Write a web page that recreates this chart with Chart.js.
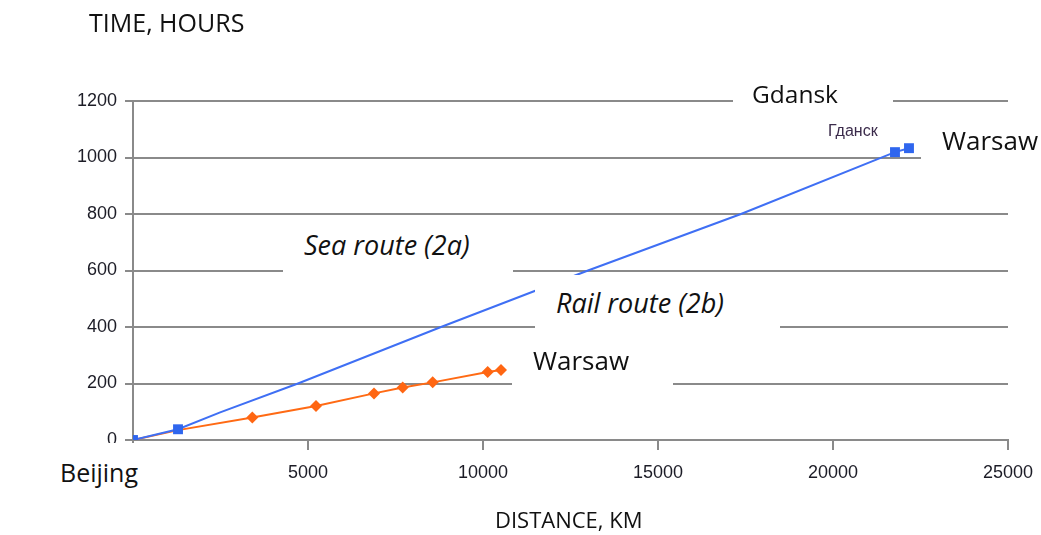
<!DOCTYPE html>
<html>
<head>
<meta charset="utf-8">
<script src="https://cdn.jsdelivr.net/npm/chart.js@4/dist/chart.umd.min.js"></script>
<style>
    html, body { margin: 0; padding: 0; background: #fff; }
    #wrap { position: relative; width: 1041px; height: 535px; overflow: hidden; }
    #routeChart { position: absolute; left: 0; top: 0; }
    .box { position: absolute; background: #fff; }
    .txt {
        position: absolute;
        font-family: 'Open Sans', 'DejaVu Sans', sans-serif;
        line-height: 1;
        color: #111;
        white-space: nowrap;
    }
    .it { font-style: italic; }
</style>
</head>
<body>
<div id="wrap">
    <canvas id="routeChart" width="1041" height="535"></canvas>

    <!-- white label boxes laid over the grid, as in the source figure -->
    <div class="box" style="left:733px; top:80px; width:160px; height:34px;"></div>
    <div class="box" style="left:921px; top:124px; width:120px; height:44px;"></div>
    <div class="box" style="left:283px; top:217px; width:230px; height:57px;"></div>
    <div class="box" style="left:535px; top:275px; width:245px; height:55px;"></div>
    <div class="box" style="left:512px; top:335px; width:161px; height:51px;"></div>
    <div class="box" style="left:45px; top:443px; width:155px; height:60px;"></div>

    <div class="txt" style="left:89px; top:10px; font-size:25px;">TIME, HOURS</div>
    <div class="txt" style="left:495px; top:508px; font-size:22px;">DISTANCE, KM</div>
    <div class="txt" style="left:752px; top:82px; font-size:24.5px;">Gdansk</div>
    <div class="txt" style="left:828px; top:123px; font-size:16px; font-family:'Liberation Sans',sans-serif; color:#3b2b4b;">Гданск</div>
    <div class="txt" style="left:942px; top:127px; font-size:26px;">Warsaw</div>
    <div class="txt it" style="left:304px; top:231px; font-size:27px;">Sea route (2a)</div>
    <div class="txt it" style="left:556px; top:289px; font-size:27px;">Rail route (2b)</div>
    <div class="txt" style="left:533px; top:347px; font-size:26px;">Warsaw</div>
    <div class="txt" style="left:60px; top:460px; font-size:25px;">Beijing</div>
</div>

<script>
// Sea route (2a): Beijing -> port -> ... -> Gdansk -> Warsaw
const seaKm = [0, 1286, 2490, 4714, 8800, 13000, 17371, 21771, 22171];
const seaHours = [0, 38, 98, 200, 400, 600, 800, 1019, 1033];
const seaStops = [0, 1, 7, 8]; // points drawn with a marker

// Rail route (2b): Beijing -> Warsaw
const railKm = [0, 1286, 3409, 5229, 6886, 7706, 8563, 10134, 10514];
const railHours = [0, 35, 80, 120, 165, 186, 204, 241, 248];
const railFirstStation = 2; // markers from this point on

const xTicks = [0, 5000, 10000, 15000, 20000, 25000];
const yTicks = [0, 200, 400, 600, 800, 1000, 1200];

const toPoints = (xs, ys) => xs.map((x, i) => ({ x: x, y: ys[i] }));

const gridColor = '#8a8a8a';
const tickFont = { family: "'Liberation Sans', Arial, sans-serif", size: 18 };

const ctx = document.getElementById('routeChart').getContext('2d');

new Chart(ctx, {
    type: 'line',
    data: {
        datasets: [
            {
                label: 'Sea route (2a)',
                data: toPoints(seaKm, seaHours),
                borderColor: '#3f6ff4',
                backgroundColor: '#2f66ee',
                borderWidth: 2,
                pointStyle: 'rect',
                pointRadius: c => seaStops.includes(c.dataIndex) ? 7 : 0,
                pointBorderWidth: 0,
                tension: 0
            },
            {
                label: 'Rail route (2b)',
                data: toPoints(railKm, railHours),
                borderColor: '#ff6a14',
                backgroundColor: '#ff6612',
                borderWidth: 2,
                pointStyle: 'rectRot',
                pointRadius: c => c.dataIndex < railFirstStation ? 0 : 6,
                pointBorderWidth: 0,
                tension: 0
            }
        ]
    },
    options: {
        responsive: false,
        animation: false,
        devicePixelRatio: 1,
        layout: { padding: { left: 0, right: 33, top: 101, bottom: 0 } },
        plugins: {
            legend: { display: false },
            tooltip: { enabled: false }
        },
        scales: {
            x: {
                type: 'linear',
                min: xTicks[0],
                max: xTicks[xTicks.length - 1],
                afterBuildTicks: axis => { axis.ticks = xTicks.map(v => ({ value: v })); },
                afterFit: axis => {
                    axis.height = 95;
                    axis.paddingLeft = 0;
                    axis.paddingRight = 0;
                },
                ticks: {
                    callback: v => String(v),
                    color: '#1c1c26',
                    font: tickFont,
                    padding: 12,
                    maxRotation: 0
                },
                grid: {
                    drawOnChartArea: false,
                    drawTicks: true,
                    tickLength: 10,
                    color: gridColor,
                    lineWidth: 2
                },
                border: { display: true, color: gridColor, width: 2 }
            },
            y: {
                type: 'linear',
                min: yTicks[0],
                max: yTicks[yTicks.length - 1],
                afterBuildTicks: axis => { axis.ticks = yTicks.map(v => ({ value: v })); },
                afterFit: axis => {
                    axis.width = 133;
                    axis.paddingTop = 0;
                    axis.paddingBottom = 0;
                },
                ticks: {
                    callback: v => String(v),
                    color: '#1c1c26',
                    font: tickFont,
                    padding: 8
                },
                grid: {
                    drawTicks: true,
                    tickLength: 8,
                    color: gridColor,
                    lineWidth: 2
                },
                border: { display: true, color: gridColor, width: 2 }
            }
        }
    }
});
</script>
</body>
</html>
